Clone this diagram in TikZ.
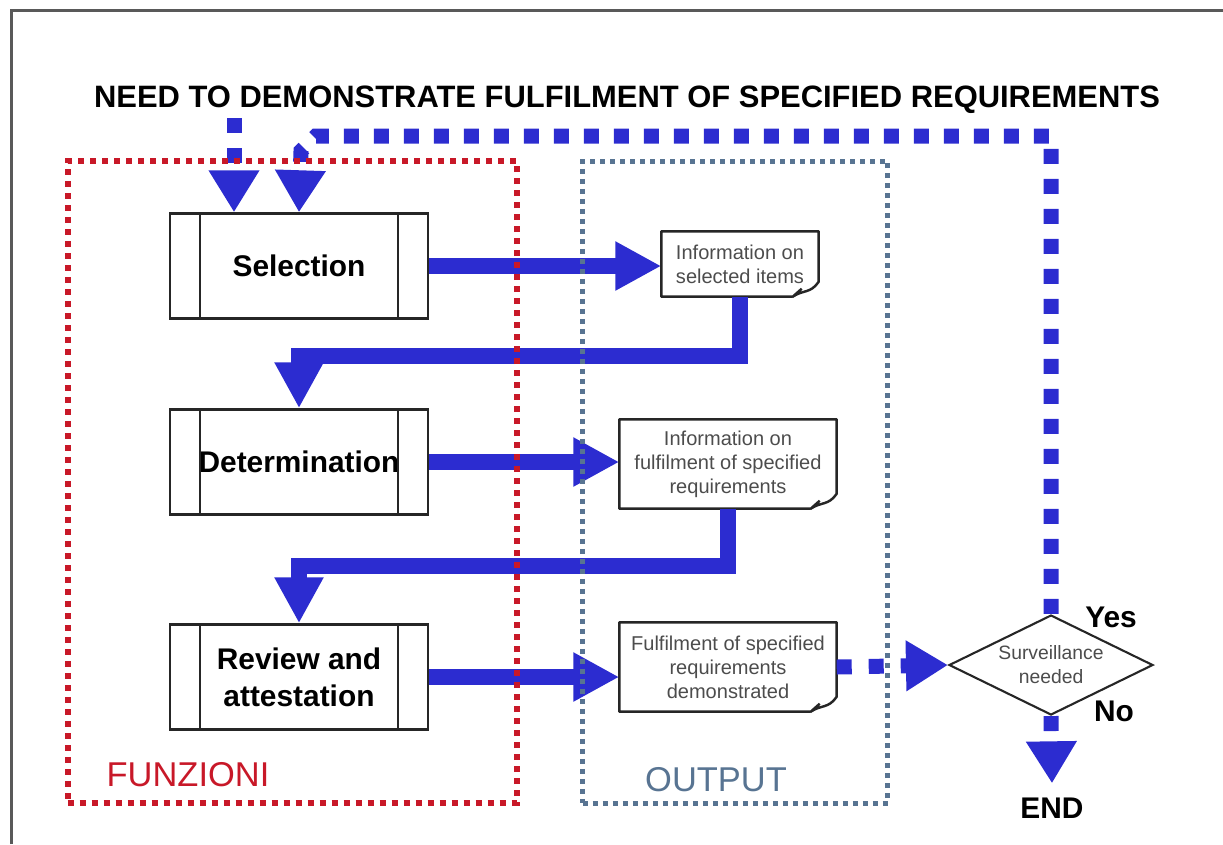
\documentclass[tikz,border=0pt]{standalone}
\usepackage{fontspec}
\setmainfont{Liberation Sans}
\usetikzlibrary{shapes.geometric,arrows.meta,positioning,calc}
\definecolor{flowblue}{RGB}{44,44,208}
\definecolor{funred}{RGB}{200,24,40}
\definecolor{outslate}{RGB}{88,116,146}

\begin{document}
\begin{tikzpicture}
  [x=0.1mm, y=-0.1mm,
  process/.style={draw=black!85, line width=0.7pt, rectangle, fill=white, minimum width=25.8mm, minimum height=10.5mm, align=center, font=\fontsize{8.5}{10.5}\selectfont\bfseries},
  document/.style={rectangle, inner sep=1pt, align=center, text=black!70, font=\fontsize{5.7}{6.8}\selectfont},
  decision/.style={draw=black!85, line width=0.6pt, diamond, aspect=2, inner sep=0pt, minimum width=20.4mm, minimum height=10mm, fill=white, align=center, text=black!70, font=\fontsize{5.5}{6.8}\selectfont},
  flow/.style={draw=flowblue, line width=1.6mm, -{Triangle[length=4.6mm,width=4.6mm]}},
  feedback/.style={draw=flowblue, line width=1.5mm, dash pattern=on 1.5mm off 1.5mm, -{Triangle[length=4.2mm,width=4.8mm]}},
  region/.style={rectangle, line width=0.6mm, dash pattern=on 0.6mm off 0.6mm},
  answer/.style={font=\fontsize{8.5}{10}\selectfont\bfseries},
  ]
  \useasboundingbox (0,0) rectangle (1223,844);
  \draw[black!65, line width=0.3mm] (11,844) -- (11,10) -- (1223,10);

  \node[font=\fontsize{8.8}{10}\selectfont\bfseries, inner sep=1pt] (need) at (627,100)
    {NEED TO DEMONSTRATE FULFILMENT OF SPECIFIED REQUIREMENTS};

  % functions
  \node[process] (sel) at (299,266) {Selection};
  \node[process] (det) at (299,462) {Determination};
  \node[process] (rev) at (299,677) {Review and\\attestation};
  \foreach \p in {sel,det,rev}
    \draw[black!85, line width=0.7pt] ([xshift=3.1mm]\p.north west) -- ([xshift=3.1mm]\p.south west)
      ([xshift=-3.1mm]\p.north east) -- ([xshift=-3.1mm]\p.south east);

  % outputs
  \node[document, minimum width=15.6mm, minimum height=6.4mm] (info1) at (740,264) {Information on\\selected items};
  \node[document, minimum width=21.6mm, minimum height=8.8mm] (info2) at (728,464) {Information on\\fulfilment of specified\\requirements};
  \node[document, minimum width=21.6mm, minimum height=8.8mm] (info3) at (728,667) {Fulfilment of specified\\requirements\\demonstrated};
  \foreach \d in {info1,info2,info3}
    \draw[black!85, line width=0.7pt, line join=round] ([xshift=-2.6mm]\d.south east) -- (\d.south west) -- (\d.north west)
      -- (\d.north east) -- ([yshift=1.5mm]\d.south east)
      .. controls ([xshift=-0.8mm,yshift=0.3mm]\d.south east) and ([xshift=-1.6mm,yshift=0.7mm]\d.south east) .. ([xshift=-2.6mm]\d.south east)
      -- ([xshift=-1.7mm,yshift=0.8mm]\d.south east);

  \node[decision] (dia) at (1051,665) {Surveillance\\needed};
  \node[answer] (yes) at (1111,617) {Yes};
  \node[answer] (no) at (1114,711) {No};
  \node[answer] (endn) at (1052,808) {END};

  \coordinate (in1) at ($(sel.north)+(-65,0)$);
  \coordinate (bend) at (316,136);

  % main flow
  \draw[flow] (sel.east) -- (sel.east -| info1.west);
  \draw[flow] (info1.south) -- ++(0,59) -| (det.north);
  \draw[flow] (det.east) -- (det.east -| info2.west);
  \draw[flow] (info2.south) -- ++(0,57) -| (rev.north);
  \draw[flow] (rev.east) -- (rev.east -| info3.west);
  \draw[feedback, dash pattern=on 1.5mm off 1.7mm] (info3.east) -- (dia.west);

  % surveillance loop
  \draw[feedback] (need.south -| in1) -- (in1);
  \draw[feedback] (dia.north) |- (bend) -- ++(-15,15) -- (sel.north);
  \draw[feedback, shorten >=0.2mm] (dia.south) -- (endn.north);

  % areas
  \node[region, draw=funred, minimum width=44.9mm, minimum height=64.2mm] (fun) at (292,482) {};
  \node[region, draw=outslate, line width=0.5mm, dash pattern=on 0.5mm off 0.5mm, minimum width=30.5mm, minimum height=64.2mm] (out) at (735,482) {};
  \node[text=funred, font=\fontsize{9.8}{12}\selectfont] (funlbl) at (188,775) {FUNZIONI};
  \node[text=outslate, font=\fontsize{9.8}{12}\selectfont] (outlbl) at (716,780) {OUTPUT};
\end{tikzpicture}
\end{document}
